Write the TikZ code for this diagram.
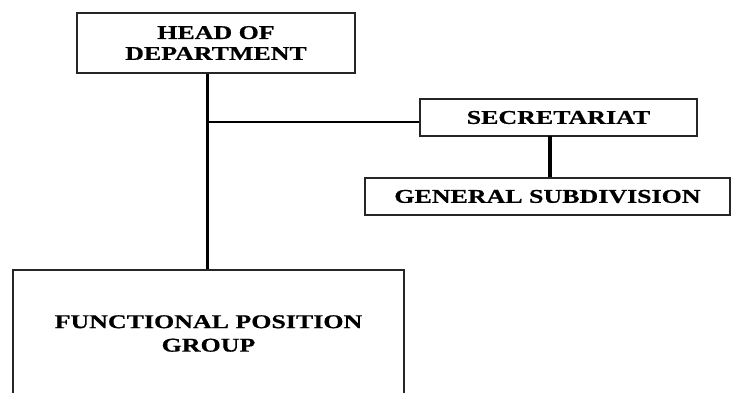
\documentclass[tikz,border=0pt]{standalone}
\usepackage{fontspec}
\setmainfont{Liberation Serif}[FakeStretch=1.33,FakeBold=0.6]
\begin{document}
\begin{tikzpicture}[x=1pt,y=-1pt,
  orgbox/.style={draw=black!85, line width=1.3pt, align=center, inner sep=0pt,
    font=\bfseries\fontsize{19.5}{20.9}\selectfont},
  link/.style={line width=3.2pt, black}]
\clip (0,0) rectangle (732,393);
\fill[white] (0,0) rectangle (732,393);
\node[orgbox, minimum width=278pt, minimum height=60pt] (head) at (216,43) {HEAD OF\\DEPARTMENT};
\node[orgbox, minimum width=277pt, minimum height=37pt] (sec) at (558.5,117.5) {SECRETARIAT};
\node[orgbox, minimum width=365pt, minimum height=37pt] (gen) at (547.5,196.5) {GENERAL SUBDIVISION};
\node[orgbox, minimum width=391pt, minimum height=127pt,
  font=\bfseries\fontsize{19.5}{23.5}\selectfont] (fpg) at (208.5,333.5) {FUNCTIONAL POSITION\\GROUP};
\coordinate (j) at (207.5,122);
\coordinate (s) at (550,136);
\draw[link] (j |- fpg.north) -- (j |- head.south);
\draw[link, line width=2.4pt] (j) -- (j -| sec.west);
\draw[link] (s) -- (s |- gen.north);
\end{tikzpicture}
\end{document}
